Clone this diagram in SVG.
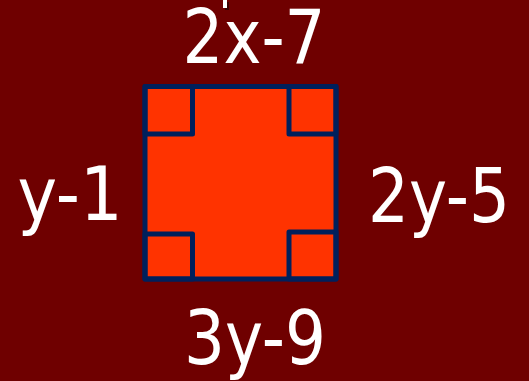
<svg xmlns="http://www.w3.org/2000/svg" width="529" height="381" viewBox="0 0 529 381">
  <style>
    .lbl { font-family: 'DejaVu Sans Condensed', 'DejaVu Sans', sans-serif; font-stretch: condensed; font-size: 75px; fill: #ffffff; text-anchor: middle; }
    .sq { stroke: #00205c; stroke-width: 5; stroke-linejoin: round; }
  </style>
  <rect x="0" y="0" width="529" height="381" fill="#6f0000"/>
  <g id="fragment">
    <rect x="225" y="2" width="4" height="8" fill="#000000" opacity="0.45"/>
    <rect x="223" y="0" width="4" height="8" fill="#ffffff"/>
  </g>
  <g id="square">
    <rect class="sq" x="145" y="86.5" width="191" height="192.5" fill="#ff3300"/>
    <rect class="sq" x="145" y="86.5" width="47.5" height="47.5" fill="none"/>
    <rect class="sq" x="289" y="86.5" width="47" height="47.5" fill="none"/>
    <rect class="sq" x="145" y="234" width="47.5" height="45" fill="none"/>
    <rect class="sq" x="289" y="232" width="47" height="47" fill="none"/>
  </g>
  <g id="label-top"><text class="lbl" x="254" y="62.5" textLength="143" lengthAdjust="spacingAndGlyphs">2x-7</text></g>
  <g id="label-left"><text class="lbl" x="70" y="219.5" textLength="105" lengthAdjust="spacingAndGlyphs">y-1</text></g>
  <g id="label-right"><text class="lbl" x="439" y="222" textLength="142" lengthAdjust="spacingAndGlyphs">2y-5</text></g>
  <g id="label-bottom"><text class="lbl" x="255" y="364" textLength="142" lengthAdjust="spacingAndGlyphs">3y-9</text></g>
  <g id="connectors"></g>
</svg>
